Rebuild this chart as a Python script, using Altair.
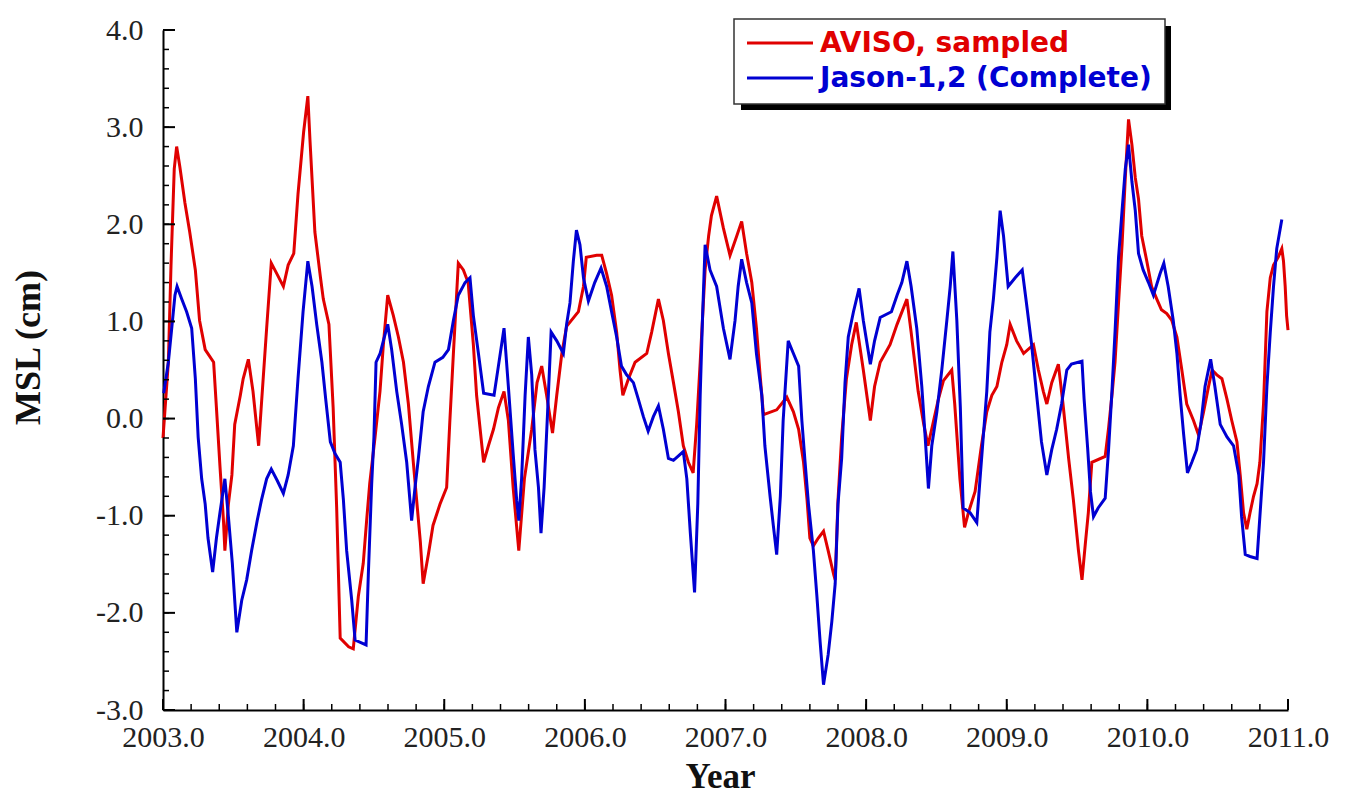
import altair as alt
import pandas as pd

# ---------------- data ----------------
red_t = [2003.000, 2003.038, 2003.057, 2003.080, 2003.097, 2003.120, 2003.156, 2003.190, 2003.230, 2003.260,
         2003.300, 2003.360, 2003.380, 2003.405, 2003.430, 2003.440, 2003.465, 2003.490, 2003.510, 2003.550,
         2003.570, 2003.607, 2003.640, 2003.680, 2003.700, 2003.737, 2003.770, 2003.810, 2003.856, 2003.890,
         2003.930, 2003.960, 2004.000, 2004.030, 2004.045, 2004.080, 2004.120, 2004.140, 2004.180, 2004.210,
         2004.235, 2004.260, 2004.320, 2004.353, 2004.389, 2004.424, 2004.448, 2004.470, 2004.508, 2004.543,
         2004.567, 2004.598, 2004.638, 2004.674, 2004.710, 2004.745, 2004.780, 2004.830, 2004.850, 2004.887,
         2004.920, 2004.970, 2005.017, 2005.040, 2005.065, 2005.100, 2005.136, 2005.170, 2005.207, 2005.230,
         2005.280, 2005.314, 2005.350, 2005.385, 2005.425, 2005.456, 2005.490, 2005.530, 2005.570, 2005.622,
         2005.660, 2005.693, 2005.728, 2005.770, 2005.800, 2005.836, 2005.870, 2005.954, 2005.990, 2006.010,
         2006.084, 2006.120, 2006.155, 2006.190, 2006.226, 2006.250, 2006.270, 2006.310, 2006.357, 2006.440,
         2006.475, 2006.523, 2006.558, 2006.594, 2006.630, 2006.665, 2006.700, 2006.736, 2006.770, 2006.795,
         2006.820, 2006.855, 2006.880, 2006.900, 2006.937, 2006.985, 2007.032, 2007.080, 2007.115, 2007.150,
         2007.187, 2007.220, 2007.246, 2007.270, 2007.364, 2007.436, 2007.483, 2007.520, 2007.555, 2007.580,
         2007.600, 2007.625, 2007.660, 2007.697, 2007.730, 2007.770, 2007.780, 2007.800, 2007.826, 2007.860,
         2007.897, 2007.930, 2007.980, 2008.030, 2008.060, 2008.100, 2008.170, 2008.220, 2008.290, 2008.320,
         2008.370, 2008.410, 2008.440, 2008.480, 2008.514, 2008.550, 2008.609, 2008.630, 2008.667, 2008.700,
         2008.727, 2008.775, 2008.820, 2008.858, 2008.894, 2008.930, 2008.965, 2009.000, 2009.024, 2009.070,
         2009.120, 2009.190, 2009.225, 2009.260, 2009.285, 2009.320, 2009.367, 2009.400, 2009.440, 2009.474,
         2009.510, 2009.535, 2009.560, 2009.580, 2009.605, 2009.700, 2009.724, 2009.748, 2009.770, 2009.795,
         2009.820, 2009.843, 2009.866, 2009.890, 2009.914, 2009.937, 2009.960, 2009.996, 2010.030, 2010.067,
         2010.100, 2010.138, 2010.174, 2010.210, 2010.245, 2010.280, 2010.328, 2010.364, 2010.400, 2010.435,
         2010.460, 2010.494, 2010.530, 2010.566, 2010.600, 2010.637, 2010.660, 2010.684, 2010.707, 2010.730,
         2010.755, 2010.780, 2010.800, 2010.826, 2010.850, 2010.874, 2010.897, 2010.930, 2010.956, 2010.968,
         2010.980, 2010.990, 2011.000]
red_v = [-0.20, 0.58, 1.58, 2.57, 2.80, 2.59, 2.22, 1.92, 1.53, 1.01,
         0.71, 0.58, 0.11, -0.49, -1.05, -1.36, -0.88, -0.58, -0.06, 0.24,
         0.41, 0.61, 0.28, -0.28, 0.15, 0.93, 1.60, 1.49, 1.36, 1.58,
         1.70, 2.31, 2.95, 3.32, 2.87, 1.92, 1.45, 1.23, 0.97, 0.11,
         -0.92, -2.26, -2.35, -2.37, -1.83, -1.49, -1.05, -0.67, -0.19, 0.28,
         0.76, 1.27, 1.06, 0.84, 0.58, 0.15, -0.45, -1.27, -1.70, -1.40,
         -1.10, -0.88, -0.71, -0.02, 0.67, 1.60, 1.53, 1.40, 0.76, 0.24,
         -0.45, -0.28, -0.11, 0.11, 0.28, -0.02, -0.71, -1.36, -0.62, -0.11,
         0.37, 0.54, 0.24, -0.15, 0.24, 0.67, 0.95, 1.10, 1.36, 1.66,
         1.68, 1.68, 1.49, 1.27, 0.89, 0.50, 0.24, 0.41, 0.58, 0.67,
         0.89, 1.23, 1.01, 0.67, 0.37, 0.07, -0.28, -0.45, -0.56, -0.06,
         0.58, 1.53, 1.88, 2.09, 2.29, 1.96, 1.68, 1.88, 2.03, 1.70,
         1.40, 0.93, 0.45, 0.04, 0.09, 0.22, 0.07, -0.11, -0.45, -0.84,
         -1.23, -1.31, -1.23, -1.16, -1.36, -1.61, -1.66, -0.84, -0.19, 0.41,
         0.76, 0.99, 0.50, -0.02, 0.33, 0.58, 0.76, 0.97, 1.23, 0.89,
         0.28, -0.06, -0.28, -0.02, 0.20, 0.39, 0.50, 0.15, -0.62, -1.12,
         -0.97, -0.75, -0.28, 0.07, 0.24, 0.33, 0.58, 0.76, 0.97, 0.80,
         0.67, 0.76, 0.50, 0.28, 0.15, 0.37, 0.56, 0.15, -0.41, -0.84,
         -1.36, -1.66, -1.27, -0.97, -0.45, -0.39, -0.10, 0.24, 0.58, 1.19,
         1.79, 2.48, 3.08, 2.82, 2.48, 2.26, 1.88, 1.62, 1.36, 1.23,
         1.12, 1.08, 1.01, 0.84, 0.50, 0.15, -0.02, -0.17, 0.07, 0.33,
         0.50, 0.45, 0.41, 0.20, -0.02, -0.24, -0.58, -0.97, -1.14, -0.97,
         -0.80, -0.67, -0.45, 0.15, 1.10, 1.45, 1.58, 1.66, 1.75, 1.62,
         1.36, 1.06, 0.91]

blue_t = [2003.005, 2003.038, 2003.062, 2003.085, 2003.100, 2003.133, 2003.168, 2003.204, 2003.230, 2003.250,
          2003.275, 2003.300, 2003.320, 2003.353, 2003.380, 2003.405, 2003.440, 2003.465, 2003.493, 2003.525,
          2003.560, 2003.595, 2003.630, 2003.670, 2003.700, 2003.737, 2003.770, 2003.813, 2003.856, 2003.890,
          2003.927, 2003.960, 2003.996, 2004.030, 2004.060, 2004.093, 2004.130, 2004.157, 2004.190, 2004.223,
          2004.260, 2004.283, 2004.306, 2004.342, 2004.366, 2004.444, 2004.460, 2004.484, 2004.500, 2004.515,
          2004.544, 2004.567, 2004.598, 2004.626, 2004.662, 2004.697, 2004.733, 2004.768, 2004.792, 2004.816,
          2004.850, 2004.887, 2004.934, 2004.990, 2005.030, 2005.065, 2005.100, 2005.148, 2005.183, 2005.207,
          2005.243, 2005.280, 2005.354, 2005.385, 2005.425, 2005.456, 2005.490, 2005.515, 2005.530, 2005.550,
          2005.575, 2005.598, 2005.622, 2005.645, 2005.670, 2005.688, 2005.710, 2005.735, 2005.760, 2005.800,
          2005.847, 2005.870, 2005.894, 2005.918, 2005.940, 2005.965, 2005.990, 2006.025, 2006.070, 2006.115,
          2006.155, 2006.190, 2006.226, 2006.260, 2006.297, 2006.345, 2006.380, 2006.416, 2006.450, 2006.487,
          2006.523, 2006.558, 2006.594, 2006.630, 2006.700, 2006.725, 2006.750, 2006.780, 2006.803, 2006.820,
          2006.836, 2006.855, 2006.890, 2006.937, 2006.985, 2007.032, 2007.068, 2007.090, 2007.115, 2007.150,
          2007.187, 2007.220, 2007.258, 2007.280, 2007.317, 2007.340, 2007.364, 2007.390, 2007.410, 2007.446,
          2007.483, 2007.520, 2007.543, 2007.566, 2007.590, 2007.625, 2007.650, 2007.673, 2007.697, 2007.730,
          2007.756, 2007.780, 2007.800, 2007.826, 2007.850, 2007.873, 2007.910, 2007.950, 2007.980, 2008.030,
          2008.060, 2008.100, 2008.180, 2008.220, 2008.254, 2008.290, 2008.320, 2008.360, 2008.396, 2008.420,
          2008.443, 2008.467, 2008.503, 2008.538, 2008.574, 2008.598, 2008.617, 2008.645, 2008.670, 2008.690,
          2008.740, 2008.787, 2008.810, 2008.835, 2008.858, 2008.880, 2008.905, 2008.930, 2008.953, 2008.977,
          2009.010, 2009.060, 2009.110, 2009.140, 2009.177, 2009.210, 2009.247, 2009.285, 2009.320, 2009.355,
          2009.390, 2009.427, 2009.460, 2009.535, 2009.550, 2009.575, 2009.595, 2009.617, 2009.650, 2009.700,
          2009.724, 2009.748, 2009.770, 2009.795, 2009.820, 2009.843, 2009.866, 2009.890, 2009.914, 2009.937,
          2009.970, 2010.008, 2010.043, 2010.090, 2010.117, 2010.148, 2010.184, 2010.210, 2010.233, 2010.257,
          2010.285, 2010.316, 2010.350, 2010.380, 2010.410, 2010.450, 2010.480, 2010.518, 2010.566, 2010.613,
          2010.650, 2010.670, 2010.696, 2010.730, 2010.780, 2010.800, 2010.826, 2010.850, 2010.874, 2010.897,
          2010.920, 2010.956]
blue_v = [0.26, 0.58, 0.93, 1.27, 1.36, 1.23, 1.10, 0.93, 0.41, -0.19,
          -0.62, -0.88, -1.23, -1.58, -1.23, -0.97, -0.62, -1.01, -1.49, -2.20,
          -1.87, -1.66, -1.36, -1.05, -0.84, -0.62, -0.52, -0.64, -0.77, -0.58,
          -0.28, 0.41, 1.10, 1.62, 1.36, 0.97, 0.58, 0.20, -0.24, -0.36,
          -0.45, -0.84, -1.36, -1.87, -2.28, -2.33, -1.61, -0.67, -0.19, 0.58,
          0.67, 0.80, 0.97, 0.71, 0.28, -0.06, -0.45, -1.05, -0.71, -0.41,
          0.07, 0.33, 0.58, 0.63, 0.71, 1.01, 1.27, 1.40, 1.45, 1.06,
          0.67, 0.26, 0.24, 0.54, 0.93, 0.33, -0.36, -0.84, -1.05, -0.62,
          0.24, 0.84, 0.45, -0.32, -0.71, -1.18, -0.71, 0.07, 0.89, 0.80,
          0.67, 0.97, 1.19, 1.62, 1.94, 1.79, 1.45, 1.21, 1.40, 1.55,
          1.36, 1.10, 0.84, 0.54, 0.45, 0.37, 0.20, 0.02, -0.13, 0.02,
          0.13, -0.11, -0.41, -0.43, -0.34, -0.62, -1.18, -1.79, -0.88, 0.24,
          1.01, 1.79, 1.53, 1.36, 0.93, 0.61, 1.01, 1.36, 1.64, 1.40,
          1.19, 0.67, 0.24, -0.28, -0.80, -1.10, -1.40, -0.80, -0.02, 0.80,
          0.67, 0.54, -0.02, -0.45, -0.88, -1.36, -1.83, -2.30, -2.74, -2.43,
          -2.09, -1.70, -0.88, -0.41, 0.37, 0.84, 1.10, 1.34, 1.01, 0.56,
          0.80, 1.04, 1.10, 1.27, 1.40, 1.62, 1.36, 0.93, 0.33, -0.19,
          -0.72, -0.28, 0.07, 0.50, 1.01, 1.36, 1.72, 1.01, 0.11, -0.92,
          -0.97, -1.07, -0.62, -0.15, 0.28, 0.89, 1.23, 1.66, 2.14, 1.88,
          1.36, 1.45, 1.53, 1.19, 0.76, 0.28, -0.24, -0.58, -0.32, -0.11,
          0.15, 0.50, 0.56, 0.59, 0.20, -0.30, -0.75, -1.01, -0.92, -0.82,
          -0.32, 0.28, 0.89, 1.66, 2.14, 2.57, 2.82, 2.44, 2.14, 1.70,
          1.53, 1.40, 1.27, 1.49, 1.60, 1.36, 1.01, 0.67, 0.24, -0.15,
          -0.56, -0.45, -0.32, -0.06, 0.33, 0.61, 0.33, -0.06, -0.19, -0.28,
          -0.58, -1.01, -1.40, -1.42, -1.44, -1.01, -0.45, 0.33, 0.89, 1.36,
          1.75, 2.05]

series_names = ["AVISO, sampled", "Jason-1,2 (Complete)"]
series_colors = ["#e00000", "#0000d2"]

x_major = [2003, 2004, 2005, 2006, 2007, 2008, 2009, 2010, 2011]
y_major = [-3, -2, -1, 0, 1, 2, 3, 4]
x_minor = [round(2003 + 0.2 * i, 1) for i in range(41)]
y_minor = [round(-3 + 0.2 * i, 1) for i in range(36)]

# ---------------- chart ----------------
W, H = 1125, 680
serif = "Liberation Serif"
label_expr = "replace(format(datum.value, '.1f'), '\u2212', '-')"

red_df = pd.DataFrame({"t": red_t, "v": red_v})
blue_df = pd.DataFrame({"t": blue_t, "v": blue_v})

xscale = alt.Scale(domain=[2003, 2011], nice=False, zero=False)
yscale = alt.Scale(domain=[-3, 4], nice=False, zero=False)

xaxis = alt.Axis(values=x_major, labelExpr=label_expr, ticks=False, grid=False,
                 domainColor="black", domainWidth=2,
                 labelFont=serif, labelFontSize=30, labelColor="#222",
                 labelPadding=12, labelOverlap=False, labelFlush=False,
                 title="Year", titleFont=serif, titleFontSize=35,
                 titleFontWeight="bold", titleColor="#111",
                 titleX=557, titleY=77, titleBaseline="alphabetic", titleAlign="center")
yaxis = alt.Axis(values=y_major, labelExpr=label_expr, ticks=False, grid=False,
                 domainColor="black", domainWidth=2,
                 labelFont=serif, labelFontSize=30, labelColor="#222",
                 labelPadding=20, labelOverlap=False,
                 title="MSL (cm)", titleFont=serif, titleFontSize=36,
                 titleFontWeight="bold", titleColor="#111",
                 titleX=-135, titleY=317, titleAngle=-90,
                 titleBaseline="middle", titleAlign="center")

X = alt.X("t:Q", scale=xscale, axis=xaxis)
Y = alt.Y("v:Q", scale=yscale, axis=yaxis)

red_line = alt.Chart(red_df).mark_line(color=series_colors[0], strokeWidth=3).encode(x=X, y=Y)
blue_line = alt.Chart(blue_df).mark_line(color=series_colors[1], strokeWidth=3).encode(x=X, y=Y)

# inward ticks
ymaj = alt.Chart(pd.DataFrame({"v": y_major})).mark_rule(color="black", strokeWidth=2).encode(
    y=Y, x=alt.value(0), x2=alt.value(12))
ymin = alt.Chart(pd.DataFrame({"v": y_minor})).mark_rule(color="black", strokeWidth=1.5).encode(
    y=Y, x=alt.value(0), x2=alt.value(6))
xmaj = alt.Chart(pd.DataFrame({"t": x_major})).mark_rule(color="black", strokeWidth=2).encode(
    x=X, y=alt.value(H), y2=alt.value(H - 11))
xmin = alt.Chart(pd.DataFrame({"t": x_minor})).mark_rule(color="black", strokeWidth=1.5).encode(
    x=X, y=alt.value(H), y2=alt.value(H - 6))

# legend box with drop shadow
one = pd.DataFrame({"k": [0]})
shadow = alt.Chart(one).mark_rect(color="black").encode(
    x=alt.value(578), x2=alt.value(1008), y=alt.value(-4), y2=alt.value(80))
box = alt.Chart(one).mark_rect(fill="white", stroke="#333", strokeWidth=1.5).encode(
    x=alt.value(571), x2=alt.value(1002), y=alt.value(-11), y2=alt.value(74))
leg = []
for name, col, yy in zip(series_names, series_colors, [13, 48]):
    leg.append(alt.Chart(one).mark_rule(color=col, strokeWidth=3).encode(
        x=alt.value(584), x2=alt.value(650), y=alt.value(yy)))
    leg.append(alt.Chart(one).mark_text(align="left", baseline="middle", font="DejaVu Sans",
                                        fontWeight="bold", fontSize=28, color=col).encode(
        x=alt.value(657), y=alt.value(yy + 1), text=alt.value(name)))

chart = alt.layer(red_line, blue_line, ymin, ymaj, xmin, xmaj, shadow, box, *leg).properties(
    width=W, height=H,
    autosize=alt.AutoSizeParams(type="none"),
    padding={"left": 155, "top": 22, "right": 45, "bottom": 85},
    background="white",
).configure_view(stroke=None)

chart.save("out.html", embed_options={"renderer": "svg", "actions": False})
